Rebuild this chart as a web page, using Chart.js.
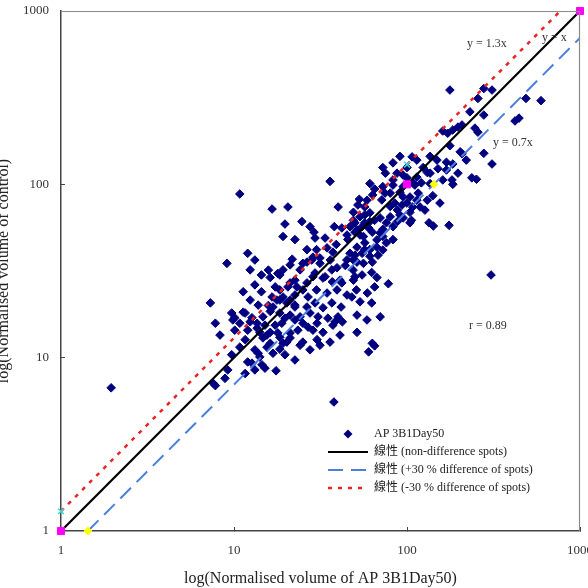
<!DOCTYPE html>
<html><head><meta charset="utf-8">
<script src="https://cdn.jsdelivr.net/npm/chart.js@4.4.1/dist/chart.umd.min.js"></script>
<style>html,body{margin:0;padding:0;background:#fff;overflow:hidden}</style>
</head><body>
<canvas id="c" width="588" height="588"></canvas>
<script>
// ---- data ----
const spotX = [35.9,10.8,65,53,40,16.6,20.5,49,57,19.7,24.7,27.5,29,19.2,22.5,29.4,33.6,38,42,45,50,55,49,45.5,39,34.5,30,26.4,12,9.1,7.3,7.8,11.3,15.8,16.2,17.9,21.7,25,28.6,31.4,36,39.4,44,49,57,63,62.5,67,55,49,42,37,32.7,28.6,26.4,22.5,20.5,18.4,16.6,15.8,17.7,19.2,22.5,25,30,34.5,39.4,45,51,59,65,62.5,53.5,48,41.6,36.8,32.7,29.4,26.4,22.5,20.2,18.4,21.1,24.1,27.5,30.6,34.9,39.9,51.4,58.7,42.3,14.7,13.6,12.4,10.8,9.7,9.85,11.6,8.3,14.1,16.2,18.4,21.1,23.4,28.6,32.7,37.3,41,51.4,35.9,30.2,25,19.2,15.5,63,10.8,
177,278,310,257,487,595,231,278,421,444,161,172,184,197,208,247,257,177,203,208,310,237,252,182,184,169,184,107,75,87.5,95,124,131,151,111,121,136,114,100,72.5,83,
80,95,104,116,141,155,131,119,108,93.6,85,80,88,91,95,106,104,134,142,175,83,76,70,65,61,57,50,57,60,63,70,72.5,83,53.5,51.4,57,61,67,72.5,55,50,51.4,48.8,50,306,78,70,
12,13.6,9.7,17.3,18.9,17.9,15.5,14.7,16.2,13.8,14.1,12,12.7,14.5,15.1,17.5,16.8,18.4,20.2,21.1,25,26.8,30.2,38.4,60,65,37.8,
1.95,7.6,7.8,
37.3,28.2,26.4,31.4,24.1,21.1,19.2,18.4,17.3,21.1,23.1,29.4,33.6,36.8,44.9,41,26.8,18.4,16.8,16.2,21.1,22.5,10.1,11.3,12.7,
46.8,51.4,56,67,72.5,76,61,56,68,46.8,52,58.7,63.3,71.5,74.6,91,100,114,127,104,88,80,61,53.5,
72.5,83,91,100,114,136,149,169,61,83,95,108,136,161,197,220,278,
13.2,11.6,10.1,15.1,19.7,22.5,24.1,27.5,31.4,19.7,22.5,13.2,11.6,9.2,8.87,
13.2,14.4,12.4,13.8,14.4,12.4,13.2];
const spotY = [104,88,94,82,74,72,74,69,74,59,61,57,53,50,48,49,49,57,56,51,53,57,62,48,45,43,42,42,40,35,20.7,15.8,24,32,29,30.6,37,35,38,35,36.6,33,34,36.6,42,35.6,31,29,30,28,27,27.4,28.8,29.3,27,28,25.6,24.6,22.4,20,21.5,22.4,23,24.6,24.6,23.6,24.6,23,24.6,23.6,25.6,20.7,21,22.4,19.6,20.7,19.4,20.7,19.6,19.6,20.7,18.1,17.6,17.2,18.1,17.2,16.9,17.2,17.6,16.5,16.1,17.2,15.8,16.1,15.8,18.1,16.5,18.1,13.5,14,14,13.1,13.9,14.4,14.4,14,15.4,13.5,14,12.3,12.7,12.3,12.1,11.5,12.1,11.5,
350,357,350,313,313,304,262,251,232,241,203,197,206,214,220,211,200,167,154,150,131,109,107,106,100,134,131,144,116,116,113,125,117,123,99,102,101,110,109,97,99,
89,84.5,84.5,89,86,78,81,74,74,76,78,74.5,71,66.6,64,62,60,60,57.5,58,57,60,64,62,68.5,66.6,60,60,56,53,52.5,55,48,51,43.4,46,42,43.4,41.8,40,39,35.6,32,29.3,30,26.7,17.2,
14.4,14.8,10.4,15.4,15.8,13.9,13.5,13,12.1,10.6,10.1,9.45,9.3,9.1,8.7,8.4,10.6,11.2,12.3,13,15.8,15,15.8,16.1,10.8,11.7,5.55,
6.7,7.1,6.9,
40.6,36.6,35.6,37.6,32.1,34.3,32.1,30,25.6,27,25.6,30.8,29.3,32.1,36.6,28,22.4,21.5,19.6,18.5,21.5,20.1,17,18.3,17,
57,54.6,50,47.8,50,46,38.5,35,39,40,76,81,86.9,81.3,89,90,78,81,71,69,61,65,61,65,
125,133,145,125,138,145,138,121,101,106,97,102,116,106,116,138,151,
11.1,12.7,14.4,15.4,16.9,16.5,11.8,11.1,11.8,10.4,9.7,8.5,8.1,8.5,7.6,
26.3,24,21.5,20.1,30,32.1,36.6];

const equalLineX = [1, 1000];      const equalLineY = [1, 1000];
const plusLineX  = [1.43, 1000];   const plusLineY  = [1, 700];
const minusLineX = [1, 769];       const minusLineY = [1.3, 1000];
const equalMarkX = [1, 100, 1000]; const equalMarkY = [1, 100, 1000];
const minusMarkX = [1, 100];       const minusMarkY = [1.3, 130];
const plusMarkX  = [1.43, 143];    const plusMarkY  = [1, 100];

const tickValues = [1, 10, 100, 1000];
const tickLabels = ['1', '10', '100', '1000'];
const seriesNames = ['AP 3B1Day50', '線性 (non-difference spots)', '線性 (+30 % difference of spots)', '線性 (-30 % difference of spots)'];
const xTitle = 'log(Normalised volume of AP 3B1Day50)';
const yTitle = 'log(Normalised volume of control)';
const notes = ['y = 1.3x', 'y = x', 'y = 0.7x', 'r = 0.89'];

// ---- build ----
const pts = (xs, ys) => xs.map((x, i) => ({x: x, y: ys[i]}));
const SERIF = "'Liberation Serif','Noto Sans CJK TC',serif";

// small diamond symbol for the legend entry of the scatter series
const legendDiamond = (() => {
  const c = document.createElement('canvas'); c.width = 10; c.height = 10;
  const g = c.getContext('2d'); g.fillStyle = '#000080';
  g.beginPath(); g.moveTo(5, 0.5); g.lineTo(9.5, 5); g.lineTo(5, 9.5); g.lineTo(0.5, 5); g.closePath(); g.fill();
  return c;
})();

const frameAndNotes = {
  id: 'frameAndNotes',
  afterLayout(chart) {
    const lg = chart.legend, a = chart.chartArea;
    const w = lg.width, h = lg.height;
    lg.left = a.left + 261; lg.top = a.top + 411;
    lg.right = lg.left + w; lg.bottom = lg.top + h;
  },
  afterDraw(chart) {
    const ctx = chart.ctx, a = chart.chartArea;
    ctx.save();
    ctx.strokeStyle = '#8a8a8a'; ctx.lineWidth = 1.2;
    ctx.beginPath();
    ctx.moveTo(a.left, a.top + 0.5); ctx.lineTo(a.right, a.top + 0.5);
    ctx.moveTo(a.right - 0.5, a.top); ctx.lineTo(a.right - 0.5, a.bottom);
    ctx.stroke();
    ctx.fillStyle = '#333';
    ctx.font = "12px " + SERIF;
    ctx.textBaseline = 'middle'; ctx.textAlign = 'left';
    const offs = [[406, 33], [481, 27], [432, 132], [408, 315]];
    notes.forEach((t, i) => ctx.fillText(t, a.left + offs[i][0], a.top + offs[i][1]));
    ctx.restore();
  }
};

const scaleCommon = (title, isX) => ({
  type: 'logarithmic', min: 1, max: 1000,
  afterBuildTicks: s => { s.ticks = tickValues.map(v => ({value: v})); },
  ticks: {
    autoSkip: false, maxRotation: 0,
    callback: (v, i) => tickLabels[i],
    font: {family: SERIF, size: 13}, color: '#333',
    padding: 16
  },
  grid: {drawOnChartArea: false, tickLength: -4, color: '#444', lineWidth: 1},
  border: {color: '#444', width: 1.5},
  title: {display: true, text: title, font: {family: SERIF, size: 16}, color: '#222', padding: {top: 0, bottom: 0}},
  afterFit: isX ? (s => { s.height = 57; s.paddingRight = 8; }) : (s => { s.width = 67; s.paddingTop = 0; })
});

new Chart(document.getElementById('c'), {
  type: 'scatter',
  data: {
    datasets: [
      {label: seriesNames[0], data: pts(spotX, spotY), pointStyle: 'rectRot', pointRadius: 4.3, pointHoverRadius: 4.3,
       backgroundColor: '#000080', borderColor: '#000080', borderWidth: 1, order: 10},
      {label: seriesNames[1], data: pts(equalLineX, equalLineY), showLine: true, pointRadius: 0, pointStyle: 'line',
       borderColor: '#000', backgroundColor: '#000', borderWidth: 2.2, order: 3},
      {label: seriesNames[2], data: pts(plusLineX, plusLineY), showLine: true, pointRadius: 0, pointStyle: 'line',
       borderColor: '#4a7fe0', backgroundColor: '#4a7fe0', borderWidth: 2, borderDash: [15, 8], order: 2},
      {label: seriesNames[3], data: pts(minusLineX, minusLineY), showLine: true, pointRadius: 0, pointStyle: 'line',
       borderColor: '#ee2222', backgroundColor: '#ee2222', borderWidth: 2.5, borderDash: [4, 6], order: 1},
      {label: 'm1', data: pts(equalMarkX, equalMarkY), pointStyle: 'rect', pointRadius: 5,
       backgroundColor: '#ff00ff', borderColor: '#ff00ff', borderWidth: 1, order: 0, clip: false},
      {label: 'm2', data: pts(minusMarkX, minusMarkY), pointStyle: 'crossRot', pointRadius: 4,
       backgroundColor: '#33dddd', borderColor: '#33dddd', borderWidth: 1.5, order: 0, clip: false},
      {label: 'm3', data: pts(plusMarkX, plusMarkY), pointStyle: 'rectRot', pointRadius: 4,
       backgroundColor: '#ffff00', borderColor: '#ffff00', borderWidth: 1, order: 0, clip: false}
    ]
  },
  options: {
    responsive: false, animation: false, devicePixelRatio: 1,
    layout: {padding: {left: -6, top: 11, right: 0, bottom: 0}, autoPadding: false},
    scales: {x: scaleCommon(xTitle, true), y: scaleCommon(yTitle, false)},
    plugins: {
      tooltip: {enabled: false},
      legend: {
        position: 'chartArea', align: 'start', fullSize: false,
        labels: {
          usePointStyle: true, pointStyleWidth: 40, boxHeight: 6, padding: 6,
          font: {family: SERIF, size: 12}, color: '#222',
          filter: item => item.datasetIndex < 4,
          sort: (a, b) => a.datasetIndex - b.datasetIndex,
          generateLabels: chart => Chart.defaults.plugins.legend.labels.generateLabels(chart).map(it => {
            const ds = chart.data.datasets[it.datasetIndex];
            if (ds.showLine) { it.lineDash = ds.borderDash || []; it.lineWidth = ds.borderWidth; it.strokeStyle = ds.borderColor; it.pointStyle = 'line'; }
            else if (it.datasetIndex === 0) { it.pointStyle = legendDiamond; }
            return it;
          })
        }
      }
    }
  },
  plugins: [frameAndNotes]
});
</script>
</body></html>
